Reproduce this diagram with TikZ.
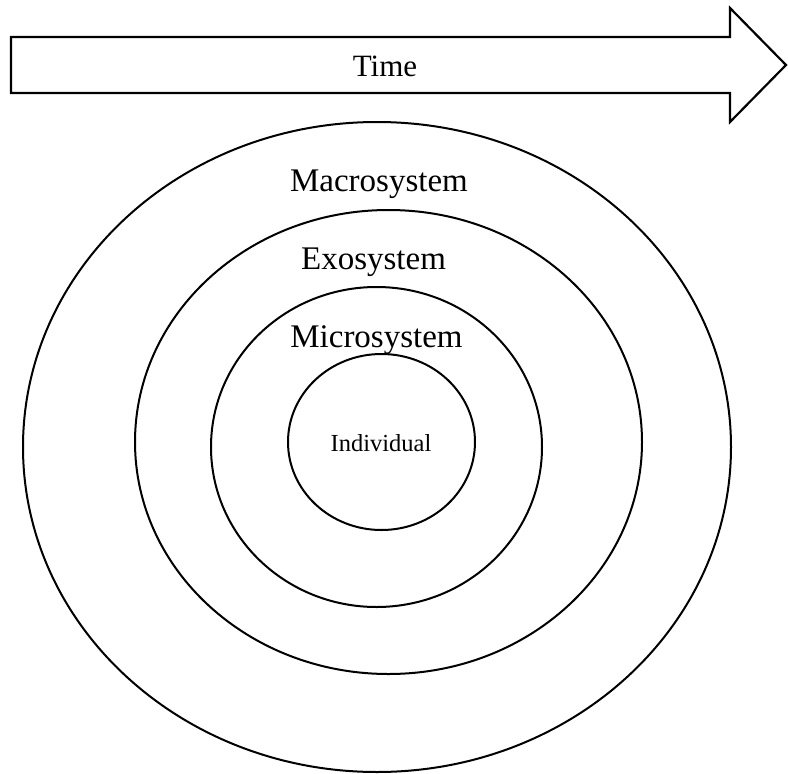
\documentclass[tikz,border=0pt]{standalone}
\usepackage{fontspec}
\setmainfont{Liberation Serif}
\usetikzlibrary{shapes.geometric}
\begin{document}
\begin{tikzpicture}[x=1pt,y=-1pt,
  ring/.style={ellipse,draw=black,line width=2pt,inner sep=0pt},
  levellabel/.style={anchor=base,inner sep=0pt,font=\fontsize{33}{40}\selectfont},
  timelabel/.style={anchor=base,inner sep=0pt,font=\fontsize{31}{38}\selectfont},
  corelabel/.style={anchor=base,inner sep=0pt,font=\fontsize{24.5}{30}\selectfont}]
  \useasboundingbox (0,0) rectangle (788,774);

  % time arrow
  \draw[line width=2.2pt,line join=miter]
    (11,37) -- (730,37) -- (730,8) -- (786,65) -- (730,122) -- (730,93) -- (11,93) -- cycle;
  \node[timelabel] (time) at (385,76.5) {Time};

  % nested systems
  \node[ring,minimum width=708pt,minimum height=650pt] (macro) at (377,447) {};
  \node[ring,minimum width=507pt,minimum height=464pt] (exo)   at (388.5,442) {};
  \node[ring,minimum width=331pt,minimum height=320pt] (micro) at (376.5,447) {};
  \node[ring,minimum width=187pt,minimum height=176pt] (indiv) at (381.5,442) {};

  \node[levellabel] (macrolabel) at (379,191.5) {Macrosystem};
  \node[levellabel] (exolabel)   at (373.5,269) {Exosystem};
  \node[levellabel] (microlabel) at (376.5,347) {Microsystem};
  \node[corelabel]  (indivlabel) at (381,451.5) {Individual};
\end{tikzpicture}
\end{document}
